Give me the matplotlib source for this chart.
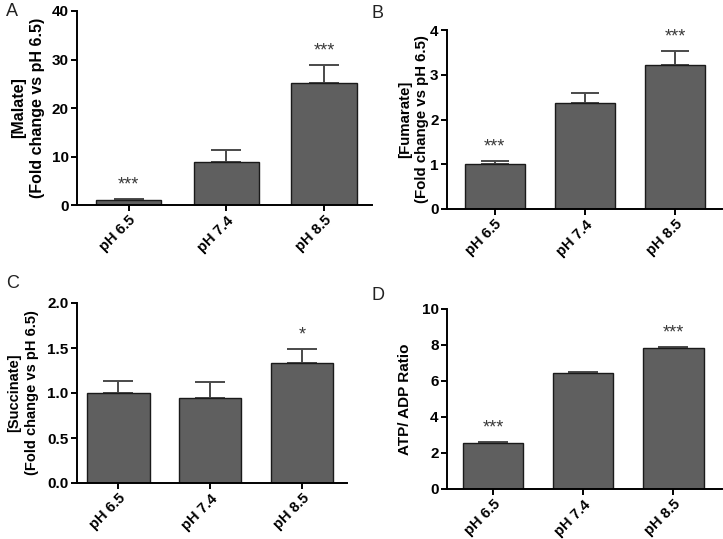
import matplotlib
matplotlib.use("Agg")
import matplotlib.pyplot as plt

plt.rcParams['font.family'] = ['Liberation Sans', 'DejaVu Sans']

groups = ['pH 6.5', 'pH 7.4', 'pH 8.5']

malate = [1.0, 8.9, 25.1]
malate_err = [0.2, 2.4, 3.8]
malate_sig = ['***', '', '***']

fumarate = [1.0, 2.37, 3.21]
fumarate_err = [0.08, 0.23, 0.32]
fumarate_sig = ['***', '', '***']

succinate = [1.0, 0.94, 1.33]
succinate_err = [0.13, 0.18, 0.16]
succinate_sig = ['', '', '*']

atp_adp = [2.54, 6.46, 7.85]
atp_adp_err = [0.06, 0.04, 0.03]
atp_adp_sig = ['***', '', '***']

W, H = 723, 539


def px_axes(fig, left, right, top, bottom):
    return fig.add_axes([left / W, 1 - bottom / H,
                         (right - left) / W, (bottom - top) / H])


def panel(ax, vals, errs, sig, ylim, yticks, ylabel, xlim, width,
          label_x, capsize, label_size):
    x = list(range(len(groups)))
    ax.bar(x, vals, width=width, color='#5f5f5f', edgecolor='#1a1a1a',
           linewidth=1.0, zorder=2)
    # upper error bars only
    ax.errorbar(x, vals, yerr=[[0] * len(errs), errs], fmt='none',
                ecolor='#4a4a4a', elinewidth=1.4, capsize=capsize,
                capthick=1.4, zorder=1)
    for xi, v, e, s in zip(x, vals, errs, sig):
        if s:
            ax.annotate(s, (xi, v + e), xytext=(0, 10),
                        textcoords='offset points', ha='center',
                        va='center', fontsize=13, color='#3a3a3a')
    ax.set_xlim(*xlim)
    ax.set_ylim(*ylim)
    ax.set_yticks(yticks)
    ax.set_xticks(x)
    ax.set_xticklabels(groups, rotation=45, ha='right',
                       rotation_mode='anchor', fontweight='bold',
                       fontsize=10.5)
    for t in ax.get_yticklabels():
        t.set_fontweight('bold')
        t.set_fontsize(11)
    ax.spines['top'].set_visible(False)
    ax.spines['right'].set_visible(False)
    ax.spines['left'].set_linewidth(1.4)
    ax.spines['bottom'].set_linewidth(1.4)
    ax.tick_params(direction='out', length=4, width=1.4, pad=2)
    ax.set_ylabel(ylabel, fontweight='bold', fontsize=label_size,
                  va='center', linespacing=1.3)
    ax.yaxis.set_label_coords(label_x, 0.5)


fig = plt.figure(figsize=(W / 100, H / 100), dpi=100)

axA = px_axes(fig, 77, 372, 11, 205)
panel(axA, malate, malate_err, malate_sig, (0, 40), [0, 10, 20, 30, 40],
      '[Malate]\n(Fold change vs pH 6.5)', (-0.53, 2.49), 0.67,
      -0.166, 11, 11.5)

axB = px_axes(fig, 447, 722, 30, 209)
panel(axB, fumarate, fumarate_err, fumarate_sig, (0, 4), [0, 1, 2, 3, 4],
      '[Fumarate]\n(Fold change vs pH 6.5)', (-0.53, 2.52), 0.67,
      -0.122, 10, 10.8)

axC = px_axes(fig, 77, 347, 303, 483)
panel(axC, succinate, succinate_err, succinate_sig, (0, 2.0),
      [0.0, 0.5, 1.0, 1.5, 2.0],
      '[Succinate]\n(Fold change vs pH 6.5)', (-0.45, 2.49), 0.68,
      -0.2, 11, 10.5)
axC.yaxis.set_major_formatter(matplotlib.ticker.FormatStrFormatter('%.1f'))

axD = px_axes(fig, 447, 722, 309, 489)
panel(axD, atp_adp, atp_adp_err, atp_adp_sig, (0, 10), [0, 2, 4, 6, 8, 10],
      'ATP/ ADP Ratio', (-0.51, 2.54), 0.67, -0.153, 11, 11)

for letter, (lx, ly) in zip('ABCD', [(6, 12), (372, 14), (6, 284),
                                       (372, 296)]):
    fig.text(lx / W, 1 - ly / H, letter, fontsize=13, va='center',
             ha='left', color='#222222')

fig.savefig('out.png', dpi=100)
